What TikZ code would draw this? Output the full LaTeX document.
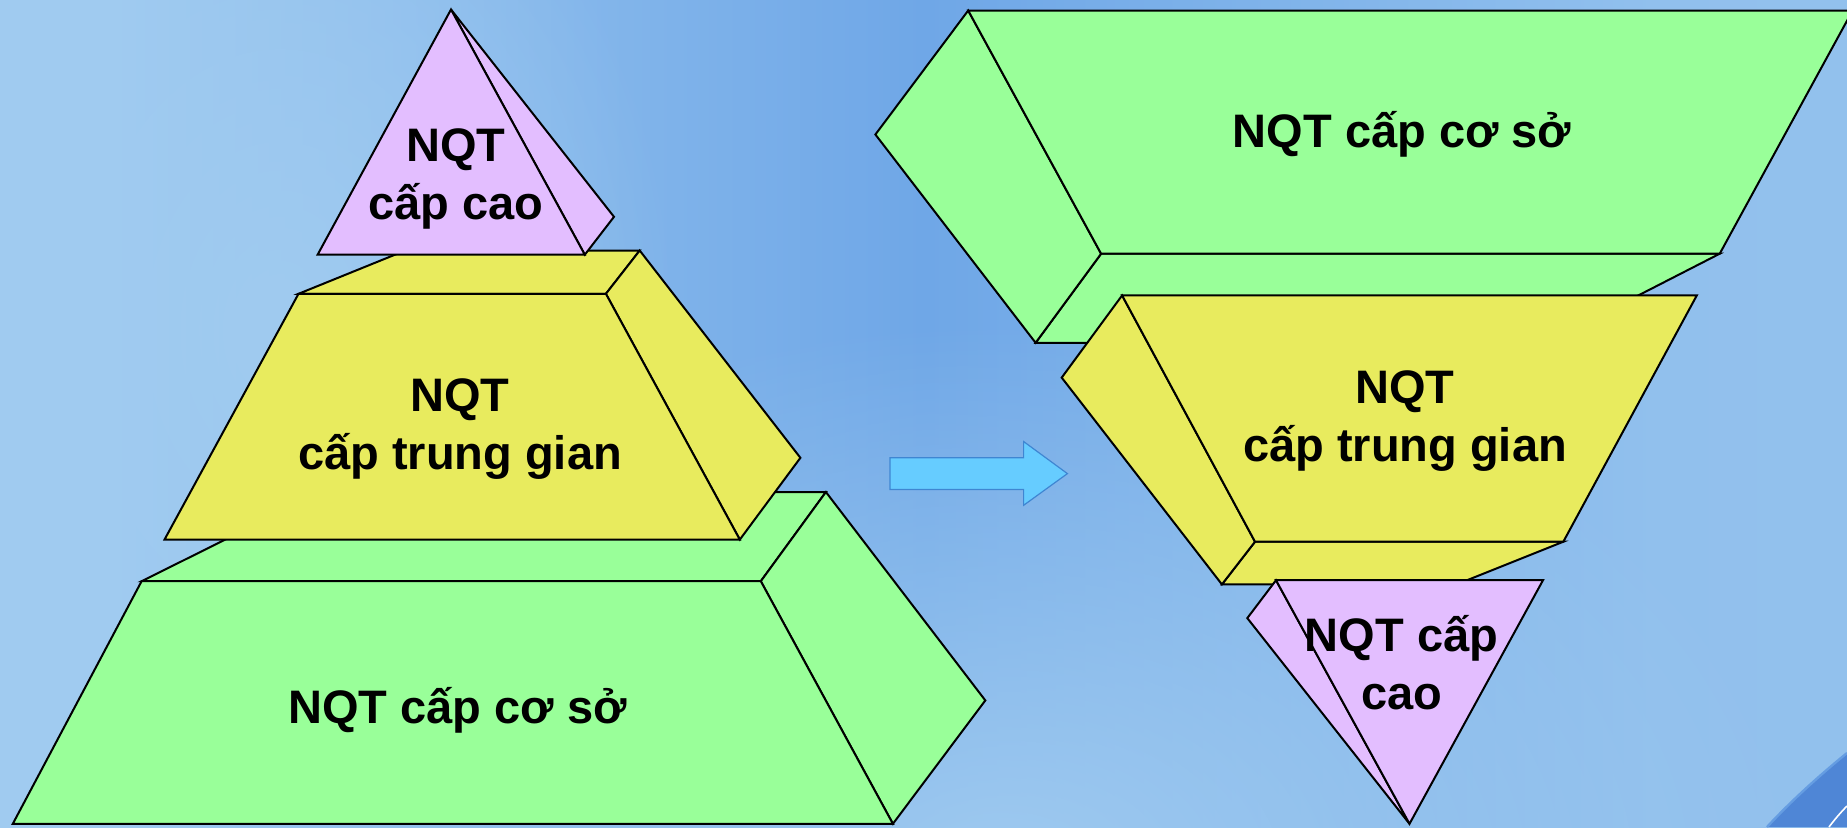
\documentclass[tikz,border=0pt]{standalone}
\usepackage{fontspec}
\setmainfont{Liberation Sans}
\usetikzlibrary{shapes,arrows.meta,calc,positioning,fadings}
\definecolor{levelgreen}{HTML}{99FF99}
\definecolor{levelyellow}{HTML}{E8EB5E}
\definecolor{levelpurple}{HTML}{E3BEFF}
\definecolor{arrowblue}{HTML}{66CCFF}
\definecolor{arrowedge}{HTML}{3F86D2}
\definecolor{bgdark}{HTML}{6FA7E7}
\definecolor{bglight}{HTML}{A0CBF0}
\definecolor{swoosh}{HTML}{4F86D6}
\pgfdeclarehorizontalshading{slidebg}{100bp}{color(0bp)=(bgdark!70!bglight); color(12bp)=(bglight); color(28bp)=(bglight); color(50bp)=(bgdark); color(70bp)=(bglight!70!bgdark); color(100bp)=(bglight!80!bgdark)}
\tikzfading[name=softglow, inner color=transparent!0, outer color=transparent!100]
\tikzset{
  face/.style={draw=black, line width=1pt, line join=miter},
  leveltext/.style={font=\bfseries\fontsize{23.5}{29}\selectfont, align=center, anchor=base}
}

\begin{document}
\begin{tikzpicture}[x=0.5pt,y=-0.5pt]
  \useasboundingbox (0,0) rectangle (1847,827);
  \clip (0,0) rectangle (1847,827);
  \shade[shading=slidebg] (0,0) rectangle (1847,827);
  % soft light patches
  \fill[bglight, path fading=softglow] (1000,880) ellipse [x radius=420pt, y radius=280pt];
  \fill[bglight, path fading=softglow] (280,330) ellipse [x radius=200pt, y radius=280pt];
  % corner swoosh
  \fill[swoosh] (1767,827) .. controls (1792,800) and (1820,775) .. (1847,753) -- (1847,827) -- cycle;
  \draw[bgdark!70!swoosh, line width=1.2pt] (1767,827) .. controls (1792,800) and (1820,775) .. (1847,753);
  \draw[white, line width=0.8pt] (1829,827) .. controls (1835,819) and (1841,812) .. (1847,806);

  % ---- left: pyramid ----
  % bottom block
  \coordinate (gFL) at (141.6,581.2);
  \coordinate (gFR) at (760.8,581.2);
  \coordinate (gBL) at (320.9,492);
  \coordinate (gBR) at (825.9,492);
  \coordinate (gRR) at (985.3,700.4);
  \coordinate (gDR) at (892.9,823.8);
  \coordinate (gDL) at (12.8,823.8);
  \draw[face, fill=levelgreen] (gFL) -- (gBL) -- (gBR) -- (gFR) -- cycle;
  \draw[face, fill=levelgreen] (gFR) -- (gBR) -- (gRR) -- (gDR) -- cycle;
  \draw[face, fill=levelgreen] (gFL) -- (gFR) -- (gDR) -- (gDL) -- cycle;

  % middle block
  \coordinate (yFL) at (298.5,293.8);
  \coordinate (yFR) at (605.9,293.8);
  \coordinate (yBL) at (405.3,250.5);
  \coordinate (yBR) at (639.7,250.5);
  \coordinate (yRR) at (800.4,457.8);
  \coordinate (yDR) at (739.8,539.6);
  \coordinate (yDL) at (164.5,539.6);
  \draw[face, fill=levelyellow] (yFL) -- (yBL) -- (yBR) -- (yFR) -- cycle;
  \draw[face, fill=levelyellow] (yFR) -- (yBR) -- (yRR) -- (yDR) -- cycle;
  \draw[face, fill=levelyellow] (yFL) -- (yFR) -- (yDR) -- (yDL) -- cycle;

  % top
  \coordinate (pA) at (451,9.5);
  \coordinate (pL) at (317.6,254.7);
  \coordinate (pR) at (584.8,254.7);
  \coordinate (pB) at (614,216.8);
  \draw[face, fill=levelpurple] (pA) -- (pR) -- (pB) -- cycle;
  \draw[face, fill=levelpurple] (pA) -- (pL) -- (pR) -- cycle;

  \node[leveltext] (baseL) at (457.6,723.6) {NQT cấp cơ sở};
  \node[leveltext] (midL) at (460,469.4) {NQT\\cấp trung gian};
  \node[leveltext] (topL) at (456,219) {NQT\\cấp cao};

  % ---- arrow ----
  \draw[fill=arrowblue, draw=arrowedge, line width=0.6pt]
    (890,457.8) -- (1023.6,457.8) -- (1023.6,441.5) -- (1067.4,473.6)
    -- (1023.6,505.3) -- (1023.6,489.5) -- (890,489.5) -- cycle;

  % ---- right: inverted pyramid ----
  % wide block on top
  \coordinate (GFL) at (968.2,10.5);
  \coordinate (GFR) at (1852.6,10.5);
  \coordinate (GLL) at (875.4,134.5);
  \coordinate (GBL) at (1035.6,342.8);
  \coordinate (GBR) at (1545.8,342.8);
  \coordinate (GDL) at (1101.1,253.7);
  \coordinate (GDR) at (1719.7,253.7);
  \draw[face, fill=levelgreen] (GDL) -- (GDR) -- (GBR) -- (GBL) -- cycle;
  \draw[face, fill=levelgreen] (GFL) -- (GLL) -- (GBL) -- (GDL) -- cycle;
  \draw[face, fill=levelgreen] (GFL) -- (GFR) -- (GDR) -- (GDL) -- cycle;

  % middle block
  \coordinate (YFL) at (1122.1,295.4);
  \coordinate (YFR) at (1696.8,295.4);
  \coordinate (YLL) at (1061.7,377.6);
  \coordinate (YBL) at (1221.9,584.4);
  \coordinate (YBR) at (1456.6,584.4);
  \coordinate (YDL) at (1255,541.7);
  \coordinate (YDR) at (1563.3,541.7);
  \draw[face, fill=levelyellow] (YDL) -- (YDR) -- (YBR) -- (YBL) -- cycle;
  \draw[face, fill=levelyellow] (YFL) -- (YLL) -- (YBL) -- (YDL) -- cycle;
  \draw[face, fill=levelyellow] (YFL) -- (YFR) -- (YDR) -- (YDL) -- cycle;

  % point at the bottom
  \coordinate (PL) at (1276,580.2);
  \coordinate (PR) at (1543,580.2);
  \coordinate (PB) at (1247.3,618.1);
  \coordinate (PA) at (1409.5,823.8);
  \draw[face, fill=levelpurple] (PL) -- (PB) -- (PA) -- cycle;
  \draw[face, fill=levelpurple] (PL) -- (PR) -- (PA) -- cycle;

  \node[leveltext] (baseR) at (1402,147.7) {NQT cấp cơ sở};
  \node[leveltext] (midR) at (1405,461.5) {NQT\\cấp trung gian};
  \node[leveltext] (topR) at (1401.5,709.4) {NQT cấp\\cao};
\end{tikzpicture}
\end{document}
